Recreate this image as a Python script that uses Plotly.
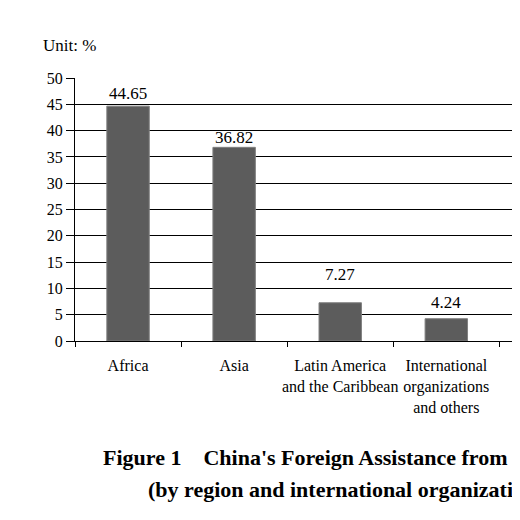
import plotly.graph_objects as go

# share of foreign assistance by region, in percent
regions = ["Africa", "Asia", "Latin America<br>and the Caribbean",
           "International<br>organizations<br>and others"]
shares = [44.65, 36.82, 7.27, 4.24]
share_labels = ["44.65", "36.82", "7.27", "4.24"]
y_ticks = [0, 5, 10, 15, 20, 25, 30, 35, 40, 45, 50]

# the value labels in the original sit at uneven heights above the bars
label_lift = [13, 10, 28, 16]

serif = "Liberation Serif, Times New Roman, serif"
positions = list(range(len(regions)))

fig = go.Figure()
fig.add_trace(go.Bar(
    x=positions,
    y=shares,
    width=0.4,
    marker=dict(color="#5c5c5c", line=dict(color="#808080", width=1)),
))

for pos, val, lbl, lift in zip(positions, shares, share_labels, label_lift):
    fig.add_annotation(x=pos, y=val, text=lbl, yshift=lift,
                       xanchor="center", yanchor="middle", showarrow=False,
                       font=dict(family=serif, size=17, color="black"))

# the page body adds an 8px offset, so margins are trimmed to compensate
fig.update_layout(
    width=520,
    height=520,
    margin=dict(l=67, r=0, t=70, b=187),
    paper_bgcolor="white",
    plot_bgcolor="white",
    showlegend=False,
    font=dict(family=serif, size=16, color="black"),
)

fig.update_xaxes(
    range=[-0.5, 3.77],
    tickvals=positions,
    ticktext=regions,
    ticks="",
    ticklabelstandoff=10,
    tickfont=dict(family=serif, size=16, color="black"),
    showline=True,
    linecolor="black",
    linewidth=1,
    showgrid=False,
    zeroline=False,
    minor=dict(tick0=0.5, dtick=1, ticks="outside", ticklen=5,
               tickcolor="black", showgrid=False),
)

fig.update_yaxes(
    range=[0, 50],
    tickvals=y_ticks,
    ticks="outside",
    ticklen=8,
    tickcolor="black",
    tickfont=dict(family=serif, size=16, color="black"),
    showline=True,
    linecolor="black",
    linewidth=1,
    showgrid=True,
    gridcolor="black",
    gridwidth=1,
    zeroline=False,
)

fig.add_annotation(text="Unit: %", xref="paper", yref="paper",
                   x=-0.075, y=1.122, xanchor="left", yanchor="middle",
                   showarrow=False, font=dict(family=serif, size=17))
fig.add_annotation(text="<b>Figure 1    China's Foreign Assistance from</b>",
                   xref="paper", yref="paper",
                   x=0.058, y=-0.442, xanchor="left", yanchor="middle",
                   showarrow=False, font=dict(family=serif, size=22))
fig.add_annotation(text="<b>(by region and international organizations)</b>",
                   xref="paper", yref="paper",
                   x=0.157, y=-0.564, xanchor="left", yanchor="middle",
                   showarrow=False, font=dict(family=serif, size=22))

fig.write_html("out.html")
